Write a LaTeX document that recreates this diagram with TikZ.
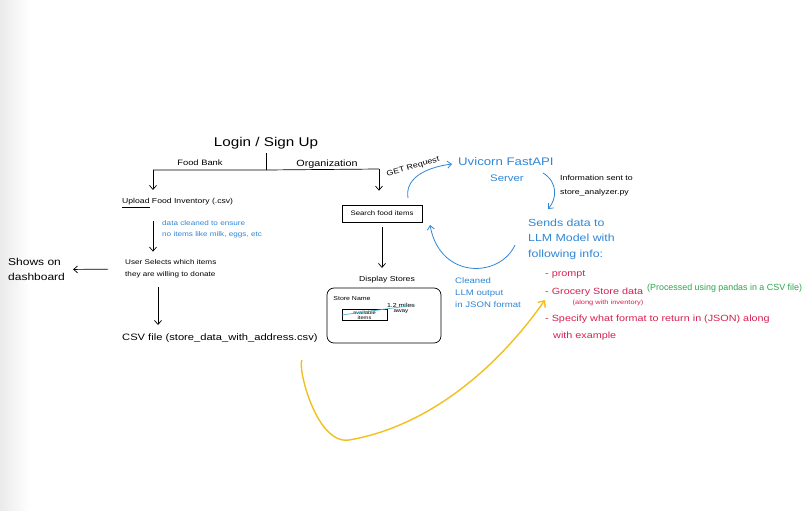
\documentclass[tikz,border=0pt]{standalone}
\usepackage{fontspec}
\setmainfont[FakeStretch=1.2]{Liberation Sans}
\newfontfamily\plainfont{Liberation Sans}
\usetikzlibrary{arrows.meta}
\definecolor{penblue}{HTML}{2F86D6}
\definecolor{penred}{HTML}{D62150}
\definecolor{pengreen}{HTML}{2AA84A}
\definecolor{penyellow}{HTML}{F2C01E}
\definecolor{penteal}{HTML}{4DB6D0}
\newcommand\fsz[2]{\fontsize{#1}{#2}\selectfont}
\begin{document}
\begin{tikzpicture}[x=1pt,y=-1pt,
  pen/.style={line width=0.7pt, black},
  arr/.style={pen, -{Straight Barb[length=4pt,width=7pt]}},
  barr/.style={line width=0.8pt, penblue, -{Straight Barb[length=4pt,width=7pt]}},
  yarr/.style={line width=1.4pt, penyellow, -{Straight Barb[length=5pt,width=9pt]}},
  lbl/.style={inner sep=0pt, anchor=west, align=left},
  clbl/.style={inner sep=0pt, align=center},
  boxed/.style={draw, line width=0.7pt, inner sep=0pt}]
\useasboundingbox (0,0) rectangle (806,511);
\fill[white] (0,0) rectangle (806,511);
\shade[left color=black!8, right color=white] (0,0) rectangle (30,511);
\clip (0,0) rectangle (806,511);

% --- top: login and branches
\node[clbl, font=\fsz{12.7}{15}] (login) at (266,143) {Login / Sign Up};
\coordinate (split) at (266,170);
\coordinate (lb) at (153,170);
\coordinate (rb) at (379,169);
\draw[pen, shorten <=4pt] (login.south -| split) -- (split);
\draw[pen] (lb) -- (split) -- (rb);
\node[clbl, font=\fsz{7.8}{9}] (fb) at (200,163) {Food Bank};
\node[clbl, font=\fsz{9}{10}] (org) at (327,164) {Organization};

% --- left column
\node[lbl, font=\fsz{7.2}{9}] (upload) at (122,203) {\underline{Upload} Food Inventory (.csv)};
\draw[arr, shorten >=8.5pt] (lb) -- (lb |- upload.north);
\node[lbl, font=\fsz{6.8}{11.5}, text=penblue] (clean) at (162,229) {data cleaned to ensure\\no items like milk, eggs, etc};
\node[lbl, font=\fsz{6.8}{12}] (user) at (125,269) {User Selects which items\\ they are willing to donate};
\draw[arr, shorten <=13.5pt, shorten >=8pt] (lb |- upload.south) -- (lb |- user.north);
\node[lbl, font=\fsz{10}{15}] (dash) at (8,269.5) {Shows on\\dashboard};
\draw[arr, shorten <=17pt, shorten >=8pt] (user.west) -- (dash.east);
\node[lbl, font=\fsz{9.3}{11}] (csv) at (122,338) {CSV file (store\_data\_with\_address.csv)};
\coordinate (cx) at (158,300);
\draw[arr, shorten <=9pt, shorten >=8.5pt] (cx |- user.south) -- (cx |- csv.north);

% --- middle column
\node[boxed, minimum width=80pt, minimum height=17pt, font=\fsz{6.5}{8}] (search) at (382,213.5) {Search food items};
\draw[arr, shorten >=14pt] (rb) -- (rb |- search.north);
\node[clbl, font=\fsz{7.2}{9}] (display) at (387,280) {Display Stores};
\draw[arr, shorten <=5pt, shorten >=8.5pt] (search.south) -- (search.south |- display.north);
\node[boxed, rounded corners=7pt, minimum width=114pt, minimum height=55pt] (store) at (384,315.5) {};
\node[clbl, font=\fsz{5.8}{7}] (sname) at (352,299) {Store Name};
\node[boxed, line width=0.6pt, minimum width=45pt, minimum height=11pt, font=\fsz{4.8}{5.3}, align=center] (avail) at (364.5,315) {available\\items};
\node[clbl, font=\fsz{5.8}{7}] (miles) at (401,305) {1.2 miles};
\node[clbl, font=\fsz{5.3}{7}] (away) at (401,312) {away};
\draw[penteal, line width=0.7pt] (avail.west) -- (miles.east);

% --- server side
\node[clbl, font=\fsz{7.5}{9}, rotate=16] (get) at (413,167) {GET Request};
\node[lbl, font=\fsz{11}{13}, text=penblue] (uv) at (458,162) {Uvicorn FastAPI};
\node[clbl, font=\fsz{9.5}{11}, text=penblue] (server) at (507,178) {Server};
\node[lbl, font=\fsz{7.3}{14}] (info) at (560,185.5) {Information sent to\\store\_analyzer.py};
\node[lbl, font=\fsz{10.3}{15.5}, text=penblue] (sends) at (528,239) {Sends data to\\LLM Model with\\following info:};
\node[lbl, font=\fsz{8}{12}, text=penblue] (cleaned) at (455,293) {Cleaned\\LLM output\\in JSON format};

\coordinate (gs) at (408,198);
\coordinate (ge) at (452,164);
\draw[barr] (gs) .. controls (405,180) and (422,168) .. (ge);
\coordinate (ss) at (543,173);
\coordinate (se) at (548,209);
\draw[barr] (ss) .. controls (558,182) and (557,199) .. (se);
\coordinate (cs) at (515,245);
\coordinate (ce) at (430,225);
\draw[barr] (cs) .. controls (500,278) and (440,280) .. (ce);

% --- LLM info list
\node[lbl, font=\fsz{9}{11}, text=penred] (p1) at (545,275) {- prompt};
\node[lbl, font=\fsz{9}{11}, text=penred] (p2) at (545,292) {- Grocery Store data};
\node[lbl, font=\plainfont\fsz{8.9}{11}, text=pengreen] (p2g) at (647,288) {(Processed using pandas in a CSV file)};
\node[clbl, font=\fsz{6.2}{7}, text=penred] (p2s) at (608,303) {(along with inventory)};
\node[lbl, font=\fsz{9}{11}, text=penred] (p3) at (545,319) {- Specify what format to return in (JSON) along};
\node[lbl, font=\fsz{9}{11}, text=penred] (p3b) at (553,336) {with example};

% --- yellow arrow
\coordinate (ys) at (302,360);
\coordinate (ye) at (545,300);
\draw[yarr] (ys) .. controls (297,366) and (316,445) .. (349,440)
  .. controls (420,428) and (490,378) .. (ye);
\end{tikzpicture}
\end{document}
